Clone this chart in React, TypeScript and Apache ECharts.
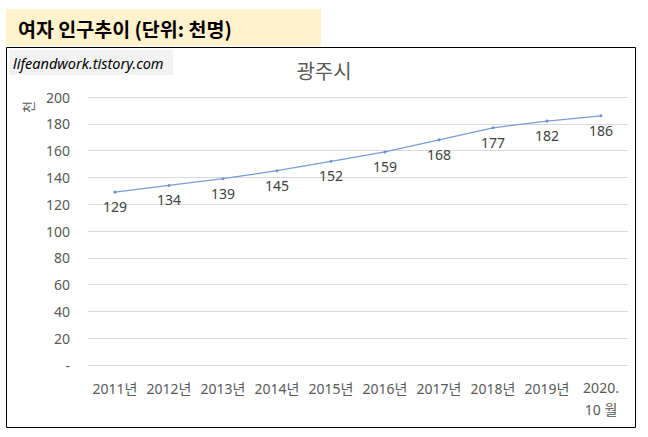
import React, { useEffect, useRef } from "react";
import * as echarts from "echarts";

const categories = ["2011년", "2012년", "2013년", "2014년", "2015년", "2016년", "2017년", "2018년", "2019년", "2020.\n10 월"];
const values = [129, 134, 139, 145, 152, 159, 168, 177, 182, 186];
const yTicks = { min: 0, max: 200, interval: 20 };
const headerText = "여자 인구추이 (단위: 천명)";
const chartTitle = "광주시";
const watermark = "lifeandwork.tistory.com";
const yName = "천";

const FONT = "'Noto Sans', 'Noto Sans CJK KR', sans-serif";

export default function App() {
  const ref = useRef<HTMLDivElement>(null);
  useEffect(() => {
    if (!ref.current) return;
    const chart = echarts.init(ref.current, null, { renderer: "svg" });
    const catData = categories.map((c, i) =>
      i === categories.length - 1 ? { value: c, textStyle: { lineHeight: 22 } } : c
    );
    chart.setOption({
      animation: false,
      backgroundColor: "#ffffff",
      textStyle: { fontFamily: FONT },
      title: {
        text: chartTitle,
        left: "center",
        top: 55,
        textStyle: { fontSize: 20, fontWeight: "normal", color: "#595959", fontFamily: "'Noto Sans CJK KR', sans-serif" },
      },
      graphic: [
        { type: "rect", shape: { x: 6.5, y: 47.5, width: 629, height: 380 }, style: { fill: "#ffffff", stroke: "#000000", lineWidth: 1 }, z: -10 },
        { type: "rect", shape: { x: 6, y: 9, width: 315, height: 37 }, style: { fill: "#FFF2CC" }, z: -5 },
        { type: "text", x: 18, y: 28, style: { text: headerText, fontSize: 19.5, fontWeight: "bold", fill: "#000000", fontFamily: "'Noto Sans CJK KR', sans-serif", verticalAlign: "middle" } },
        { type: "rect", shape: { x: 9, y: 50, width: 164, height: 25 }, style: { fill: "#F2F2F2" }, z: -5 },
        { type: "text", x: 13, y: 62.5, style: { text: watermark, fontSize: 14.5, fontStyle: "italic", fill: "#000000", fontFamily: FONT, verticalAlign: "middle" } },
        { type: "text", x: 27, y: 107, rotation: Math.PI / 2, style: { text: yName, fontSize: 13, fill: "#595959", fontFamily: "'Noto Sans CJK KR', sans-serif", align: "center", verticalAlign: "middle" } },
      ],
      grid: { left: 88, right: 20, top: 97, bottom: 72, containLabel: false },
      xAxis: {
        type: "category",
        data: catData,
        axisLine: { show: false },
        axisTick: { show: false },
        axisLabel: { color: "#595959", fontSize: 14, margin: 11, lineHeight: 25, interval: 0, fontFamily: FONT },
      },
      yAxis: {
        type: "value",
        min: yTicks.min,
        max: yTicks.max,
        interval: yTicks.interval,
        axisLine: { show: false },
        axisTick: { show: false },
        splitLine: { lineStyle: { color: "#D9D9D9", width: 1 } },
        axisLabel: {
          color: "#595959",
          fontSize: 14,
          margin: 18,
          fontFamily: FONT,
          formatter: (v: number) => (v === 0 ? "-" : String(v)),
        },
      },
      series: [
        {
          type: "line",
          data: values,
          symbol: "circle",
          symbolSize: 3,
          lineStyle: { color: "#7A9BDA", width: 1.25 },
          itemStyle: { color: "#6E90D4" },
          label: { show: true, position: "bottom", distance: 6, color: "#404040", fontSize: 14, fontFamily: FONT },
        },
      ],
    });
    return () => chart.dispose();
  }, []);
  return <div ref={ref} style={{ position: "fixed", left: 0, top: 0, width: 648, height: 437 }} />;
}
